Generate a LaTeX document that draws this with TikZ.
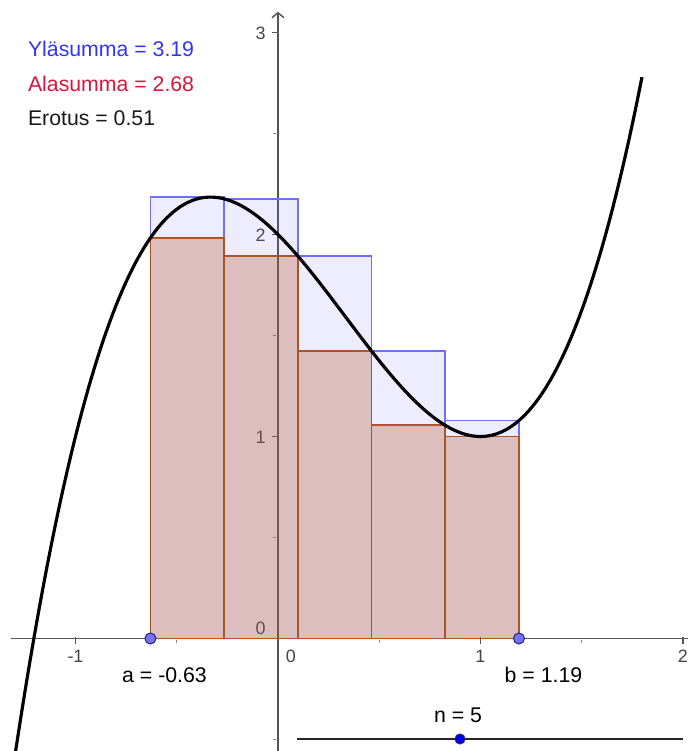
\documentclass[tikz,border=0pt]{standalone}
\usepackage{fontspec}
\setmainfont{Liberation Sans}
\definecolor{axcol}{RGB}{85,85,85}
\definecolor{updraw}{RGB}{110,110,255}
\definecolor{lodraw}{RGB}{176,82,38}
\definecolor{ylacol}{RGB}{51,51,255}
\definecolor{alacol}{RGB}{220,20,60}
\definecolor{ptfill}{RGB}{115,115,255}
\definecolor{ptdraw}{RGB}{40,40,110}
\definecolor{slfill}{RGB}{0,0,240}
\begin{document}
\begin{tikzpicture}[x=4.05cm,y=4.04cm,
  axis/.style={draw=axcol,line width=0.85pt},
  minortick/.style={draw=axcol!70,line width=0.5pt},
  ticklab/.style={inner sep=0pt,font=\fontsize{10.2pt}{12pt}\selectfont,text=axcol!80!black},
  lab/.style={inner sep=0pt,font=\fontsize{12.1pt}{14pt}\selectfont},
  uprect/.style={draw=updraw,line width=0.9pt,fill=updraw,fill opacity=0.12},
  lorect/.style={draw=lodraw,line width=1pt,fill=lodraw,fill opacity=0.3},
  curve/.style={draw=black,line width=1.8pt},
  pt/.style={circle,inner sep=0pt,minimum size=0.22cm,fill=ptfill,draw=ptdraw,line width=0.6pt},
  slpt/.style={circle,inner sep=0pt,minimum size=0.2cm,fill=slfill,draw=ptdraw,line width=0.6pt}]
\useasboundingbox (-1.3728,-0.557) rectangle (2.0247,3.161);
\begin{scope}
\clip (-1.3728,-0.557) rectangle (2.0247,3.161);
% axes
\coordinate (xl) at (-1.3185,0);
\coordinate (xr) at (2.05,0);
\coordinate (yb) at (0,-0.6);
\coordinate (yt) at (0,3.098);
\draw[axis] (xl) -- (xr);
\draw[axis] (yb) -- (yt);
\draw[axis] ([shift={(-0.12cm,-0.1cm)}]yt) -- (yt) -- ([shift={(0.12cm,-0.1cm)}]yt);
\foreach \t in {-1,1,2}{\draw[axis] (\t,0) ++(0,0.03cm) -- ++(0,-0.15cm);}
\foreach \t in {-0.5,0.5,1.5}{\draw[minortick] (\t,0) ++(0,-0.04cm) -- ++(0,-0.06cm);}
\foreach \t in {1,2,3}{\draw[axis] (0,\t) -- ++(-0.12cm,0);}
\foreach \t in {-0.5,0.5,1.5,2.5}{\draw[minortick] (0,\t) ++(-0.04cm,0) -- ++(-0.06cm,0);}
\node[ticklab,anchor=base] (xm1) at (-1,-0.1198) {-1};
\node[ticklab,anchor=base] (x0) at (0.064,-0.1198) {0};
\node[ticklab,anchor=base] (x1) at (1.0,-0.1198) {1};
\node[ticklab,anchor=base] (x2) at (2.0,-0.1198) {2};
\node[ticklab,anchor=base east] (y0) at (-0.0593,0.0173) {0};
\node[ticklab,anchor=base east] (y1) at (-0.0593,0.9644) {1};
\node[ticklab,anchor=base east] (y2) at (-0.0593,1.9644) {2};
\node[ticklab,anchor=base east] (y3) at (-0.0593,2.9644) {3};
% upper rectangles
\draw[uprect] (-0.63,0) rectangle (-0.266,2.185185);
\draw[uprect] (-0.266,0) rectangle (0.098,2.176423);
\draw[uprect] (0.098,0) rectangle (0.462,1.893337);
\draw[uprect] (0.462,0) rectangle (0.826,1.423167);
\draw[uprect] (0.826,0) rectangle (1.19,1.079059);
% lower rectangles
\draw[lorect] (-0.63,0) rectangle (-0.266,1.983053);
\draw[lorect] (-0.266,0) rectangle (0.098,1.893337);
\draw[lorect] (0.098,0) rectangle (0.462,1.423167);
\draw[lorect] (0.462,0) rectangle (0.826,1.055284);
\draw[lorect] (0.826,0) rectangle (1.19,1.0);
% curve
\draw[curve] plot[domain=-1.4:1.8,samples=200,smooth] (\x,{\x*\x*\x-\x*\x-\x+2});
% points
\node[pt] (A) at (-0.63,0) {};
\node[pt] (B) at (1.19,0) {};
\node[lab,anchor=base] (la) at (-0.5605,-0.219) {a = -0.63};
\node[lab,anchor=base] (lb) at (1.311,-0.219) {b = 1.19};
% slider
\coordinate (s1) at (0.0938,-0.4975);
\coordinate (s2) at (2.0,-0.4975);
\draw[line width=0.85pt,draw=black!85] (s1) -- (s2);
\node[slpt] (N) at (0.899,-0.4975) {};
\node[lab,anchor=base] (ln) at (0.889,-0.418) {n = 5};
% sums
\node[lab,anchor=base west,text=ylacol] (ys) at (-1.236,2.879) {Yläsumma = 3.19};
\node[lab,anchor=base west,text=alacol] (as) at (-1.236,2.707) {Alasumma = 2.68};
\node[lab,anchor=base west,text=black!90] (er) at (-1.236,2.542) {Erotus = 0.51};
\end{scope}
\end{tikzpicture}
\end{document}
